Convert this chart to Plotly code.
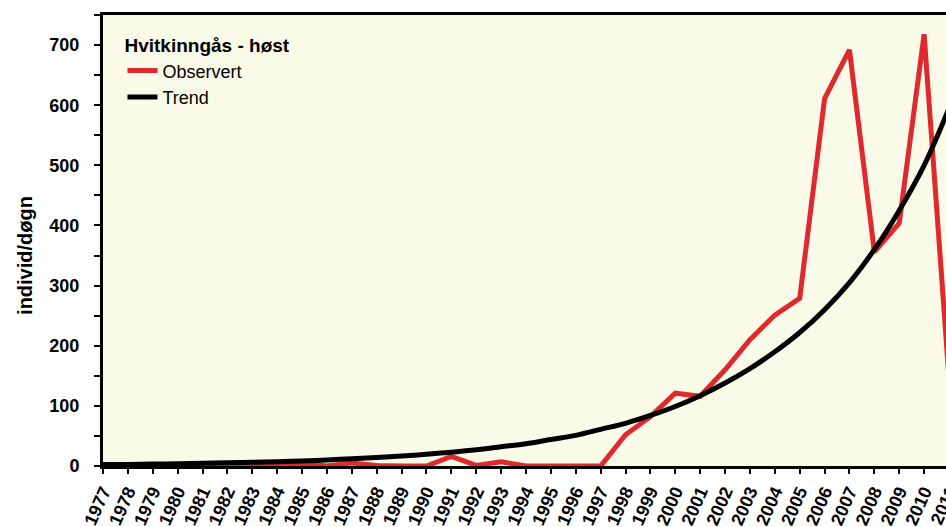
import plotly.graph_objects as go

years = list(range(1977, 2012))
observert = [0, 0, 0, 0, 0, 1, 0, 0, 4, 0, 5, 1, 0, 0, 16, 1, 7, 0, 0, 0, 0,
             52, 82, 121, 116, 160, 210, 251, 279, 611, 692, 356, 404, 718, 145]
trend = [2.3, 2.7, 3.2, 3.7, 4.4, 5.2, 6.1, 7.2, 8.5, 10, 12, 14, 16.5, 19.5, 23,
         27, 32, 37, 44, 51, 61, 71, 84, 99, 117, 138, 162, 190, 222, 260, 305,
         360, 425, 500, 595]
year_labels = [str(y) for y in years]
y_ticks = list(range(0, 800, 100))

legend_title = "Hvitkinngås - høst"
y_title = "individ/døgn"

RED = "#DF292D"
BG = "#FAFAE8"
FONT = "Liberation Sans, Arial, sans-serif"

fig = go.Figure()
fig.add_trace(go.Scatter(x=years, y=observert, mode="lines", name="Observert",
                         line=dict(color=RED, width=5)))
fig.add_trace(go.Scatter(x=years, y=trend, mode="lines", name="Trend",
                         line=dict(color="black", width=5, shape="spline", smoothing=1.0)))

fig.update_layout(
    # the chart is cropped on the right by the 946 px window
    width=949, height=527,
    margin=dict(l=103, r=0, t=15, b=61, autoexpand=False),
    paper_bgcolor="white",
    plot_bgcolor=BG,
    font=dict(family=FONT, color="black"),
    showlegend=True,
    legend=dict(
        x=0.023, y=0.972, xanchor="left", yanchor="top",
        bgcolor="rgba(0,0,0,0)",
        title=dict(text="<b>" + legend_title + "</b>", font=dict(size=19, family=FONT)),
        font=dict(size=18, family=FONT),
        tracegroupgap=0,
    ),
    xaxis=dict(
        range=[years[0], years[-1]],
        automargin=False,
        tickmode="array", tickvals=years, ticktext=year_labels,
        tickangle=-66,
        tickfont=dict(size=18, family=FONT, weight="bold"),
        ticklabeloverflow="allow",
        ticks="outside", ticklen=5, tickwidth=2, tickcolor="black",
        showline=True, linecolor="black", linewidth=3, mirror=True,
        showgrid=False, zeroline=False,
    ),
    yaxis=dict(
        range=[0, 750],
        automargin=False,
        tickmode="array", tickvals=y_ticks,
        tickfont=dict(size=18, family=FONT, weight="bold"),
        ticks="outside", ticklen=6, tickwidth=2, tickcolor="black",
        minor=dict(dtick=50, ticks="outside", ticklen=6, tickwidth=2, tickcolor="black"),
        ticklabelstandoff=11,
        showline=True, linecolor="black", linewidth=3,
        showgrid=False, zeroline=False,
    ),
)

# y-axis title
fig.add_annotation(xref="paper", yref="paper", x=-0.0922, y=0.468,
                   xanchor="center", yanchor="middle",
                   text="<b>" + y_title + "</b>", textangle=-90, showarrow=False,
                   font=dict(size=20, family=FONT))

fig.write_html("out.html",
               config={"displayModeBar": False},
               post_script="document.body.style.margin='0';"
                           "document.documentElement.style.overflow='hidden';")
